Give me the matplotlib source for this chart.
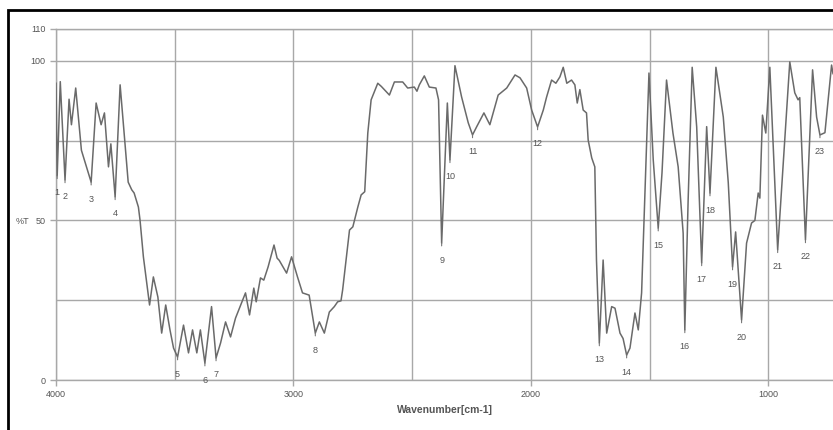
"""
IR spectrum (%T vs wavenumber) with numbered absorption bands
"""

import matplotlib
matplotlib.use('Agg')
import matplotlib.pyplot as plt
from matplotlib.patches import Rectangle

plt.rcParams['font.family'] = ['Liberation Sans', 'DejaVu Sans']

# spectrum trace: wavenumber (cm-1) and transmittance (%T)
wavenumber = [4000, 3995, 3982, 3962, 3945, 3935, 3917, 3893, 3852, 3831, 3810, 3796,
              3779, 3769, 3751, 3730, 3696, 3681, 3671, 3653, 3646, 3632, 3606, 3590,
              3571, 3555, 3538, 3520, 3505, 3488, 3463, 3442, 3425, 3407, 3392, 3373,
              3345, 3326, 3307, 3286, 3265, 3244, 3202, 3185, 3167, 3157, 3139, 3125,
              3107, 3082, 3069, 3060, 3029, 3008, 2983, 2962, 2934, 2908, 2891, 2870,
              2849, 2828, 2814, 2800, 2793, 2764, 2750, 2729, 2715, 2700, 2687, 2673,
              2645, 2630, 2596, 2575, 2540, 2519, 2491, 2480, 2470, 2449, 2428, 2400,
              2389, 2376, 2352, 2341, 2320, 2292, 2264, 2246, 2229, 2198, 2173, 2138,
              2102, 2067, 2046, 2018, 1997, 1972, 1948, 1934, 1913, 1895, 1878, 1864,
              1849, 1829, 1815, 1805, 1794, 1780, 1766, 1759, 1744, 1731, 1724, 1712,
              1696, 1681, 1660, 1646, 1625, 1612, 1597, 1583, 1562, 1548, 1534, 1520,
              1503, 1485, 1464, 1448, 1429, 1402, 1380, 1359, 1352, 1338, 1321, 1302,
              1281, 1260, 1246, 1221, 1190, 1169, 1151, 1138, 1113, 1092, 1071, 1057,
              1043, 1036, 1025, 1011, 994, 961, 910, 889, 875, 868, 844, 814,
              797, 783, 762, 734, 728]
transmittance = [93, 64, 93.5, 62.7, 88, 80, 91.5, 72, 62, 86.8, 80, 83.7,
                 66.8, 74, 57.4, 92.5, 62, 59.6, 58.6, 54.2, 50, 38.6, 23.5, 32.3,
                 26, 14.7, 23.5, 15.7, 10, 7.2, 17.2, 8.5, 15.7, 8.5, 15.7, 5.3,
                 23, 6.9, 11.6, 18.2, 13.5, 19.4, 27.3, 20.4, 28.8, 24.5, 32, 31.3,
                 35.4, 42.3, 38.2, 37.5, 33.5, 38.6, 32.3, 27.3, 26.6, 14.7, 18.2, 14.7,
                 21.3, 23, 24.5, 24.8, 28.2, 47, 48, 54.2, 58, 59, 77.4, 87.8,
                 93, 92, 89.3, 93.4, 93.4, 91.5, 91.8, 90.5, 92.5, 95.3, 91.8, 91.5,
                 87.8, 42.9, 86.8, 69, 98.5, 88.7, 80.6, 76.8, 79.3, 83.7, 80, 89.3,
                 91.5, 95.6, 94.7, 91.5, 84.6, 79.3, 84.6, 88.7, 94, 93, 95, 98,
                 93, 94, 92.5, 86.8, 91, 84.6, 83.7, 75.2, 69.6, 66.8, 37.6, 11.6,
                 37.6, 14.7, 23, 22.5, 14.7, 13, 7.8, 10, 21, 15.7, 27.3, 58.6,
                 96.2, 69, 47.6, 65, 94, 77.4, 66.8, 46, 15.7, 56.4, 98, 79.3,
                 36.7, 79.4, 58.6, 98, 82.4, 61.8, 35.4, 46.4, 18.8, 42.9, 49.2, 50,
                 58.6, 57, 83, 77.4, 98, 40.8, 99.7, 90, 87.8, 88.5, 43.9, 97.2,
                 82.4, 76.8, 77.5, 98.7, 96]

# numbered bands (labels under the minima)
peak_ids = list(range(1, 24))
peak_wn = [3995, 3962, 3852, 3751, 3488, 3373, 3326, 2908, 2376, 2341, 2246, 1972,
           1712, 1597, 1464, 1352, 1281, 1246, 1151, 1113, 961, 844, 783]
peak_t = [64, 62.7, 62, 57.4, 7.2, 5.3, 6.9, 14.7, 42.9, 69, 76.8, 79.3,
          11.6, 7.8, 47.6, 15.7, 36.7, 58.6, 35.4, 18.8, 40.8, 43.9, 76.8]

fig = plt.figure(figsize=(8.33, 4.30), dpi=100)
ax = fig.add_axes([56 / 833, 1 - 380 / 430, 777 / 833, 351 / 430])

grid_c = '#a8a8a8'
ink = '#555555'

ax.plot(wavenumber, transmittance, color='#6a6a6a', lw=1.1, zorder=3)

for n, w, t in zip(peak_ids, peak_wn, peak_t):
    ax.annotate(str(n), xy=(w, t), xytext=(0, -17), textcoords='offset pixels',
                ha='center', va='center', fontsize=6.5, color=ink,
                arrowprops=dict(arrowstyle='-', color='#777777', lw=0.8,
                                shrinkA=5, shrinkB=0), zorder=4)

ax.set_xlim(4000, 728)
ax.set_ylim(0, 110)
ax.set_xticks([4000, 3000, 2000, 1000])
ax.set_xticks([3500, 2500, 1500], minor=True)
ax.set_yticks([0, 50, 100, 110])
ax.set_yticks([25, 75], minor=True)
ax.grid(True, which='both', color=grid_c, lw=1.0)
ax.tick_params(which='both', colors=grid_c, labelcolor=ink, labelsize=6.5,
               length=4, width=1.0)
ax.tick_params(which='minor', length=0)
for side in ['left', 'bottom', 'top']:
    ax.spines[side].set_color(grid_c)
    ax.spines[side].set_linewidth(1.0)
ax.spines['right'].set_visible(False)

ax.set_xlabel('Wavenumber[cm-1]', fontsize=7.5, fontweight='bold', color=ink,
              labelpad=4)
fig.text(22 / 833, 1 - 222 / 430, '%T', fontsize=6.5, color=ink,
         ha='center', va='center')

# black frame of the scanned page (top and left edges only visible)
fig.add_artist(Rectangle((8 / 833, -0.2), 1.5, 1.2 - 10 / 430, transform=fig.transFigure,
                         fill=False, edgecolor='black', lw=2.0))

fig.savefig('out.png', dpi=100, facecolor='white')
